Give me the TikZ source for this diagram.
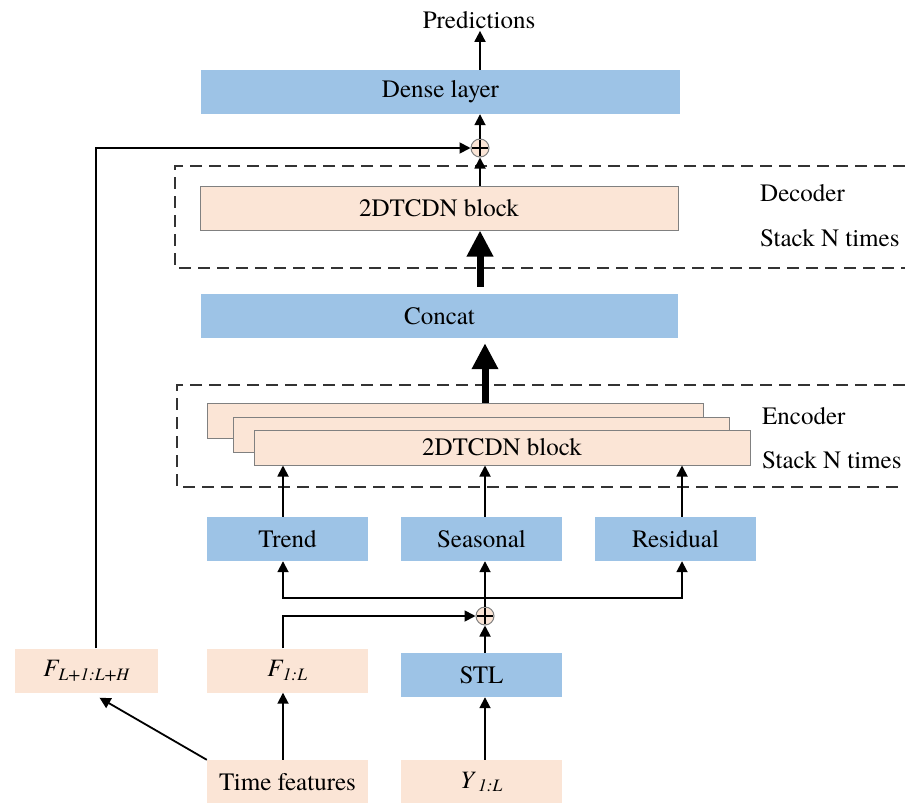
\documentclass[tikz,border=0pt]{standalone}
\usepackage{fontspec}
\setmainfont{texgyretermes}[Extension=.otf, UprightFont=*-regular, ItalicFont=*-italic, BoldFont=*-bold, BoldItalicFont=*-bolditalic]
\usetikzlibrary{arrows.meta}
\definecolor{boxblue}{RGB}{157,195,230}
\definecolor{boxpeach}{RGB}{251,229,214}
\tikzset{
  bluebox/.style={fill=boxblue, inner sep=0pt, minimum height=44pt, minimum width=161pt},
  peachbox/.style={fill=boxpeach, inner sep=0pt, minimum height=44pt, minimum width=161pt},
  stackbox/.style={fill=boxpeach, draw=black!50, line width=1pt, inner sep=0pt, minimum width=496pt, minimum height=35pt},
  addnode/.style={circle, fill=boxpeach, draw=black!50, line width=1pt, minimum size=18pt, inner sep=0pt,
    path picture={\draw[black, line width=1.2pt]
      ([xshift=-8pt]path picture bounding box.center) -- ([xshift=8pt]path picture bounding box.center)
      ([yshift=-8pt]path picture bounding box.center) -- ([yshift=8pt]path picture bounding box.center);}},
  lbl/.style={anchor=west, inner sep=0pt},
  arr/.style={line width=1.8pt, -{Triangle[length=11pt, width=11pt]}},
  bigarr/.style={line width=7pt, -{Triangle[length=26pt, width=25pt]}},
  stackframe/.style={dash pattern=on 12pt off 7pt, line width=2pt, black!80}
}
\begin{document}
\begin{tikzpicture}[x=1pt, y=-1pt, font=\fontsize{25}{30}\selectfont]
\useasboundingbox (0, 0) rectangle (905, 803);
\coordinate (lx) at (96, 0);
\coordinate (tx) at (283, 0);
\coordinate (rx) at (682, 0);
%Inputs
\node[peachbox, minimum width=143pt] (flh) at (86.5, 670.5) {\textit{F\textsubscript{L+1:L+H}}};
\node[peachbox] (f1l) at (287.5, 670.5) {\textit{F\textsubscript{1:L}}};
\node[peachbox] (time) at (287.5, 782) {Time features};
\node[peachbox] (y1l) at (481.5, 782) {\textit{Y\,\textsubscript{1:L}}};
\node[bluebox] (stl) at (481.5, 675) {STL};
\node[addnode] (add) at (485, 616) {};
\coordinate (split) at (485, 598);
%Decomposition
\node[bluebox] (trend) at (287.5, 539) {Trend};
\node[bluebox] (seasonal) at (481.5, 539) {Seasonal};
\node[bluebox] (residual) at (675.5, 539) {Residual};
%Encoder
\draw[stackframe] (905, 385) -| (177, 487) -- (905, 487);
\node[stackbox] (enc1) at (455, 420.5) {};
\node[stackbox] (enc2) at (481.5, 434.5) {};
\node[stackbox] (enc3) at (502, 447.5) {2DTCDN block};
\node[lbl] (enclbl) at (762, 416) {Encoder};
\node[lbl] (encrep) at (762, 460) {Stack N times};
\node[bluebox, minimum width=477pt] (concat) at (439.5, 316) {Concat};
%Decoder
\draw[stackframe] (905, 166) -| (175, 268) -- (905, 268);
\node[stackbox, minimum width=478pt, minimum height=44pt] (dec) at (439, 208) {2DTCDN block};
\node[lbl] (declbl) at (760, 193) {Decoder};
\node[lbl] (decrep) at (760, 238) {Stack N times};
\node[addnode] (addtop) at (480, 148) {};
\node[bluebox, minimum width=479pt] (dense) at (440.5, 92) {Dense layer};
\node[inner sep=2pt] (pred) at (479, 20) {Predictions};
%Connectors
\draw[arr] (time.north -| tx) -- (f1l.south -| tx);
\draw[arr] (time.north west) -- ([xshift=13pt, yshift=-5pt]flh.south);
\draw[arr] (f1l.north -| tx) |- (add);
\draw[arr] (y1l.north -| add) -- (stl.south -| add);
\draw[arr] (stl.north -| add) -- (add);
\draw[arr] (add) -- (seasonal.south -| add);
\draw[arr] (split) -| (trend.south -| tx);
\draw[arr] (split) -| (residual.south -| rx);
\draw[arr] (trend.north -| tx) -- (enc3.south -| tx);
\draw[arr] (seasonal.north -| add) -- (enc3.south -| add);
\draw[arr] (residual.north -| rx) -- (enc3.south -| rx);
\draw[bigarr, shorten >=5pt] (enc1.north -| add) -- (concat.south -| add);
\draw[bigarr, shorten <=7pt] (concat.north -| addtop) -- (dec.south -| addtop);
\draw[arr] (dec.north -| addtop) -- (addtop);
\draw[arr] (flh.north -| lx) |- (addtop);
\draw[arr] (addtop) -- (dense.south -| addtop);
\draw[arr] (dense.north -| addtop) -- (pred.south -| addtop);
\end{tikzpicture}
\end{document}
